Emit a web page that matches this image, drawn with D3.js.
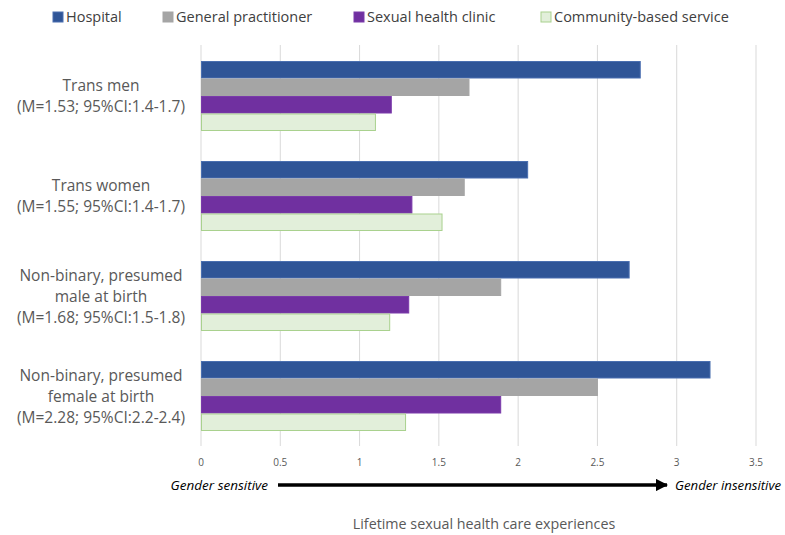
<!DOCTYPE html>
<html>
<head>
<meta charset="utf-8">
<script src="https://cdn.jsdelivr.net/npm/d3@7"></script>
<style>
  body { margin: 0; background: #fff; }
  svg { font-family: "Open Sans", sans-serif; }
</style>
</head>
<body>
<svg id="chart" width="785" height="535"></svg>
<script>
// data
const groups = [
  ["Trans men", "(M=1.53; 95%CI:1.4-1.7)"],
  ["Trans women", "(M=1.55; 95%CI:1.4-1.7)"],
  ["Non-binary, presumed", "male at birth", "(M=1.68; 95%CI:1.5-1.8)"],
  ["Non-binary, presumed", "female at birth", "(M=2.28; 95%CI:2.2-2.4)"]
];
const services = ["Hospital", "General practitioner", "Sexual health clinic", "Community-based service"];
const hospital = [2.77, 2.06, 2.70, 3.21];
const gp = [1.69, 1.66, 1.89, 2.50];
const clinic = [1.20, 1.33, 1.31, 1.89];
const community = [1.10, 1.52, 1.19, 1.29];
const ticks = [0, 0.5, 1, 1.5, 2, 2.5, 3, 3.5];

const fills = ["#2F5597", "#A5A5A5", "#7030A0", "#E2EFDA"];
const strokes = ["#4A6FB0", "#A5A5A5", "#7A3AAA", "#A9D18E"];
const series = [hospital, gp, clinic, community];

const svg = d3.select("#chart");
const x = d3.scaleLinear().domain([0, 3.5]).range([201, 756]);
const y = d3.scaleBand().domain(d3.range(groups.length)).range([46, 446])
  .paddingInner(0.3).paddingOuter(0.15);
const sub = d3.scaleBand().domain(d3.range(services.length)).range([0, y.bandwidth()]);

// gridlines
svg.append("g").selectAll("line").data(ticks).enter().append("line")
  .attr("x1", d => x(d)).attr("x2", d => x(d))
  .attr("y1", 45).attr("y2", 446)
  .attr("stroke", "#D9D9D9").attr("stroke-width", 1);

// tick labels
svg.append("g").selectAll("text").data(ticks).enter().append("text")
  .attr("x", d => x(d)).attr("y", 466)
  .attr("text-anchor", "middle")
  .attr("font-size", 10).attr("fill", "#595959")
  .text(d => d);

// bars
const g = svg.append("g").selectAll("g").data(groups).enter().append("g")
  .attr("transform", (d, i) => `translate(0,${y(i)})`);
g.selectAll("rect").data((d, i) => series.map((s, k) => ({k: k, v: s[i]})))
  .enter().append("rect")
  .attr("x", x(0) + 0.5)
  .attr("y", d => sub(d.k) + 0.5)
  .attr("width", d => x(d.v) - x(0) - 0.5)
  .attr("height", sub.bandwidth() - 1)
  .attr("fill", d => fills[d.k])
  .attr("stroke", d => strokes[d.k]).attr("stroke-width", 1);

// category labels
const lab = svg.append("g").selectAll("text").data(groups).enter().append("text")
  .attr("text-anchor", "middle")
  .attr("font-size", 15.5).attr("fill", "#595959");
lab.each(function(d, i) {
  const cy = y(i) + y.bandwidth() / 2;
  const lh = 21;
  const t0 = cy - (d.length - 1) * lh / 2;
  d3.select(this).selectAll("tspan").data(d).enter().append("tspan")
    .attr("x", 101).attr("y", (s, j) => t0 + j * lh + 5.5)
    .text(s => s);
});

// legend
const legX = [53, 163, 354, 541];
const leg = svg.append("g").selectAll("g").data(services).enter().append("g")
  .attr("transform", (d, i) => `translate(${legX[i]},12)`);
leg.append("rect").attr("width", 10).attr("height", 10)
  .attr("fill", (d, i) => fills[i]).attr("stroke", (d, i) => strokes[i]);
leg.append("text").attr("x", 13).attr("y", 10)
  .attr("font-size", 14.5).attr("fill", "#404040")
  .text(d => d);

// arrow between the two ends
svg.append("defs").append("marker")
  .attr("id", "head").attr("viewBox", "0 0 10 10")
  .attr("refX", 9).attr("refY", 5)
  .attr("markerWidth", 3.5).attr("markerHeight", 3.5)
  .attr("orient", "auto")
  .append("path").attr("d", "M0,0L10,5L0,10Z").attr("fill", "#000");
svg.append("line")
  .attr("x1", 278).attr("x2", 667).attr("y1", 485).attr("y2", 485)
  .attr("stroke", "#000").attr("stroke-width", 3.5)
  .attr("marker-end", "url(#head)");
svg.append("text").attr("x", 268).attr("y", 490)
  .attr("text-anchor", "end").attr("font-size", 13.5).attr("font-style", "italic")
  .attr("fill", "#000").text("Gender sensitive");
svg.append("text").attr("x", 675).attr("y", 490)
  .attr("font-size", 13.2).attr("font-style", "italic")
  .attr("fill", "#000").text("Gender insensitive");

// axis title
svg.append("text").attr("x", 484).attr("y", 529)
  .attr("text-anchor", "middle").attr("font-size", 14.3).attr("fill", "#595959")
  .text("Lifetime sexual health care experiences");
</script>
</body>
</html>
